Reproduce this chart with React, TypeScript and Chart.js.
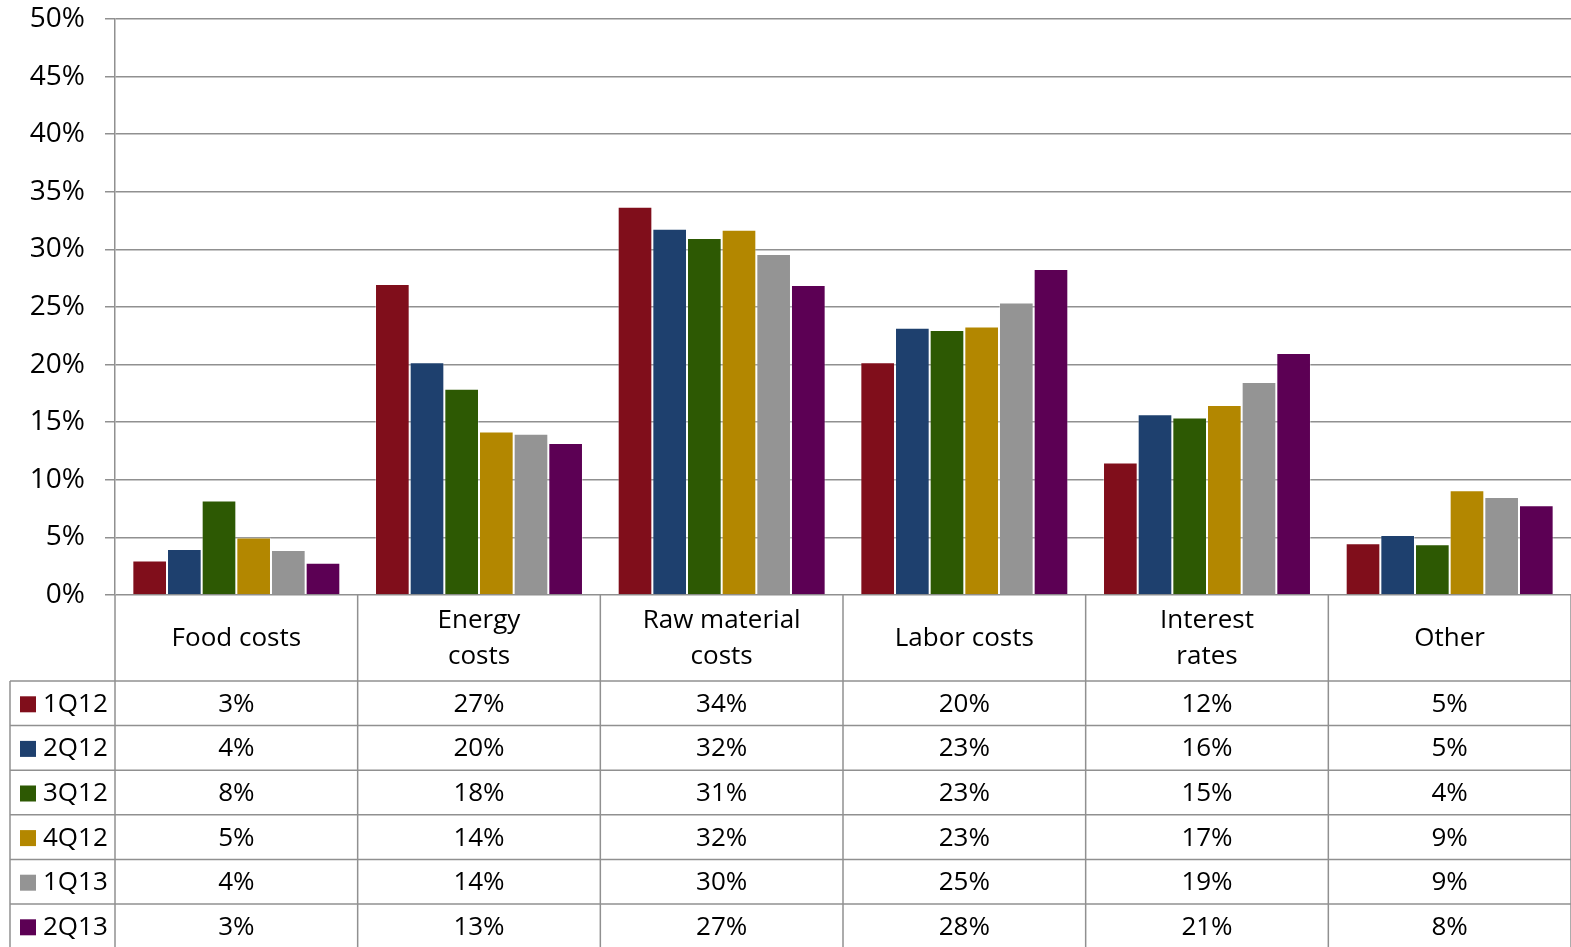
import React, { useEffect, useRef } from "react";
import { Chart, registerables } from "chart.js";

Chart.register(...registerables);

const categories: string[][] = [
  ["Food costs"],
  ["Energy", "costs"],
  ["Raw material", "costs"],
  ["Labor costs"],
  ["Interest", "rates"],
  ["Other"],
];

const seriesNames = ["1Q12", "2Q12", "3Q12", "4Q12", "1Q13", "2Q13"];
const seriesColors = ["#800e1b", "#1e406e", "#2d5903", "#b38700", "#949494", "#5c0054"];

const s1Q12 = [3.0, 27.0, 33.7, 20.2, 11.5, 4.5];
const s2Q12 = [4.0, 20.2, 31.8, 23.2, 15.7, 5.2];
const s3Q12 = [8.2, 17.9, 31.0, 23.0, 15.4, 4.4];
const s4Q12 = [5.0, 14.2, 31.7, 23.3, 16.5, 9.1];
const s1Q13 = [3.9, 14.0, 29.6, 25.4, 18.5, 8.5];
const s2Q13 = [2.8, 13.2, 26.9, 28.3, 21.0, 7.8];

const tableLabels1Q12 = ["3%", "27%", "34%", "20%", "12%", "5%"];
const tableLabels2Q12 = ["4%", "20%", "32%", "23%", "16%", "5%"];
const tableLabels3Q12 = ["8%", "18%", "31%", "23%", "15%", "4%"];
const tableLabels4Q12 = ["5%", "14%", "32%", "23%", "17%", "9%"];
const tableLabels1Q13 = ["4%", "14%", "30%", "25%", "19%", "9%"];
const tableLabels2Q13 = ["3%", "13%", "27%", "28%", "21%", "8%"];

const seriesValues = [s1Q12, s2Q12, s3Q12, s4Q12, s1Q13, s2Q13];
const tableLabels = [
  tableLabels1Q12,
  tableLabels2Q12,
  tableLabels3Q12,
  tableLabels4Q12,
  tableLabels1Q13,
  tableLabels2Q13,
];

const FONT = "'Open Sans', sans-serif";
const LINE = "#909090";

const tablePlugin = {
  id: "dataTable",
  afterDraw(chart: any) {
    const ctx = chart.ctx as CanvasRenderingContext2D;
    const area = chart.chartArea;
    const H = chart.height;
    const W = chart.width;
    const n = categories.length;
    const cw = (area.right - area.left) / n;
    const headerBottom = 681;
    const rowH = 44.6;
    const legendLeft = 10;
    ctx.save();
    ctx.strokeStyle = LINE;
    ctx.lineWidth = 1.5;
    for (let i = 0; i <= n; i++) {
      const x = area.left + i * cw;
      ctx.beginPath();
      ctx.moveTo(x, area.bottom);
      ctx.lineTo(x, H);
      ctx.stroke();
    }
    ctx.beginPath();
    ctx.moveTo(legendLeft, headerBottom);
    ctx.lineTo(legendLeft, H);
    ctx.stroke();
    for (let r = 0; r < seriesNames.length; r++) {
      const y = headerBottom + r * rowH;
      ctx.beginPath();
      ctx.moveTo(legendLeft, y);
      ctx.lineTo(W, y);
      ctx.stroke();
    }
    ctx.fillStyle = "#000";
    ctx.font = `26px ${FONT}`;
    ctx.textAlign = "center";
    ctx.textBaseline = "middle";
    const xs = chart.scales.x;
    const headerMid = (area.bottom + headerBottom) / 2 + 1;
    for (let i = 0; i < n; i++) {
      const cx = xs.getPixelForValue(i);
      const lines = categories[i];
      const lh = 36;
      lines.forEach((t, k) => {
        const y = headerMid + (k - (lines.length - 1) / 2) * lh;
        ctx.fillText(t, cx, y);
      });
    }
    for (let r = 0; r < seriesNames.length; r++) {
      const yMid = headerBottom + r * rowH + rowH / 2 + 1;
      ctx.fillStyle = seriesColors[r];
      ctx.fillRect(20, yMid - 8, 16, 16);
      ctx.fillStyle = "#000";
      ctx.textAlign = "left";
      ctx.fillText(seriesNames[r], 43, yMid);
      ctx.textAlign = "center";
      for (let i = 0; i < n; i++) {
        ctx.fillText(tableLabels[r][i], xs.getPixelForValue(i), yMid);
      }
    }
    ctx.restore();
  },
};

export default function App() {
  const ref = useRef<HTMLCanvasElement>(null);
  useEffect(() => {
    if (!ref.current) return;
    const chart = new Chart(ref.current, {
      type: "bar",
      data: {
        labels: categories.map((c) => c.join(" ")),
        datasets: seriesNames.map((name, i) => ({
          label: name,
          data: seriesValues[i],
          backgroundColor: seriesColors[i],
          borderColor: "rgba(255,255,255,0.35)",
          borderWidth: 1,
          barPercentage: 1,
          categoryPercentage: 0.857,
        })),
      },
      options: {
        animation: false,
        responsive: false,
        maintainAspectRatio: false,
        layout: { padding: { left: 0, right: 0, top: 19, bottom: 352 } },
        plugins: { legend: { display: false }, tooltip: { enabled: false } },
        scales: {
          x: { display: false },
          y: {
            min: 0,
            max: 50,
            ticks: {
              stepSize: 5,
              callback: (v: any) => `${v}%`,
              color: "#000",
              font: { family: FONT, size: 28 },
              padding: 20,
            },
            grid: { color: LINE, lineWidth: 1.5, tickLength: 10 },
            border: { color: LINE, width: 1.5 },
            afterFit: (scale: any) => {
              scale.width = 115;
              scale.paddingTop = 0;
              scale.paddingBottom = 0;
            },
          },
        },
      },
      plugins: [tablePlugin],
    });
    return () => chart.destroy();
  }, []);
  return (
    <div style={{ position: "fixed", left: 0, top: 0, width: 1571, height: 947, background: "#fff" }}>
      <canvas ref={ref} width={1571} height={947} style={{ width: 1571, height: 947 }} />
    </div>
  );
}
